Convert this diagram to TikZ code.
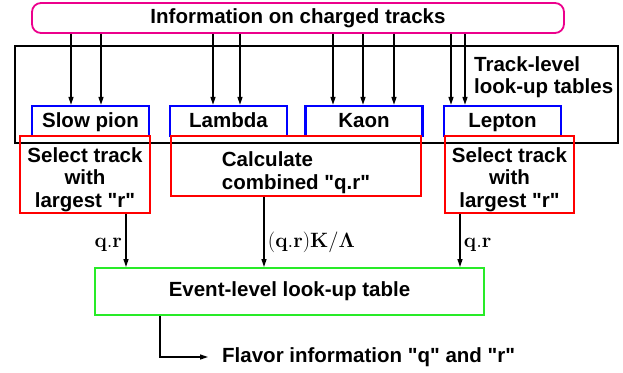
\documentclass[tikz,border=0pt]{standalone}
\usepackage[no-math]{fontspec}
\setmainfont{Liberation Sans}
\usetikzlibrary{arrows.meta,positioning}
\newcommand\dq{\textquotedbl}
\newcommand\topstrut[1]{\rule{0pt}{#1}}
\definecolor{evtgreen}{RGB}{40,235,40}

\begin{document}
\begin{tikzpicture}[x=1pt, y=-1pt, font=\fontsize{20.5}{22.5}\selectfont\bfseries,
 src/.style={draw=magenta, line width=1.8pt, rounded corners=9pt, minimum width=532pt, minimum height=30pt},
 tab/.style={draw=blue, line width=2.4pt, minimum width=117pt, minimum height=30pt, inner sep=0pt, text depth=2pt},
 proc/.style={draw=red, line width=1.8pt, align=center, inner sep=0pt},
 evt/.style={draw=evtgreen, line width=2pt, minimum width=389pt, minimum height=47pt},
 arr/.style={-{Triangle[length=8pt,width=5pt]}, line width=1.3pt},
 lab/.style={font=\fontsize{20.74}{22}\selectfont}]

 \useasboundingbox (0,0) rectangle (623,372);

 % --- input and track-level tables ---
 \node[src] (info) at (298,18) {Information on charged tracks};
 \node[draw, line width=1.2pt, minimum width=603pt, minimum height=97pt] (frame) at (316.5,94.5) {};
 \node[tab] (pion) at (90.5,121) {Slow pion};
 \node[tab] (lam) at (228.5,121) {Lambda};
 \node[tab] (kaon) at (364,121) {Kaon};
 \node[tab] (lep) at (502.5,121) {Lepton};
 \node[anchor=west, align=left, inner sep=0pt] (tltext) at (474,77) {Track-level\\look-up tables};

 \foreach \x/\n in {71/pion,101/pion,213/lam,240/lam,333/kaon,363/kaon,394/kaon,451/lep,465/lep}
  \draw[arr] (info.south -| \x,0) -- (\n.north -| \x,0);

 % --- track selection ---
 \node[proc, minimum width=130pt, minimum height=77pt] (sel1) at (85,174.5) {\topstrut{25pt}Select track\\with\\largest \dq r\dq};
 \node[proc, minimum width=250pt, minimum height=60pt, align=left] (calc) at (296,166) {\topstrut{28pt}Calculate\\combined \dq q.r\dq};
 \node[proc, minimum width=129pt, minimum height=77pt] (sel2) at (509.5,174.5) {\topstrut{25pt}Select track\\with\\largest \dq r\dq};

 % --- event level ---
 \node[evt] (event) at (289.5,291.5) {Event-level look-up table};
 \node[anchor=west, inner sep=0pt] (flav) at (222,357) {Flavor information \dq q\dq{} and \dq r\dq};

 \draw[arr] (sel1.south -| 126,0) -- node[lab, left, pos=0.58]{$\mathbf{q.r}$} (event.north -| 126,0);
 \draw[arr] (calc.south -| 264,0) -- node[lab, right, pos=0.65]{$\mathbf{(q.r)K/\Lambda}$} (event.north -| 264,0);
 \draw[arr] (sel2.south -| 460,0) -- node[lab, right, pos=0.58]{$\mathbf{q.r}$} (event.north -| 460,0);
 \draw[arr, shorten >=14pt] (event.south -| 160,0) |- (flav.west);
\end{tikzpicture}
\end{document}
